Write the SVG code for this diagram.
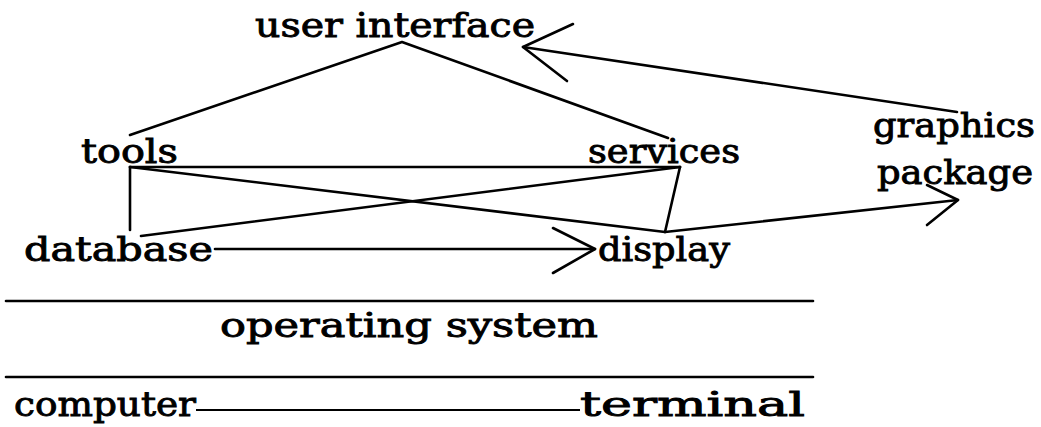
<svg xmlns="http://www.w3.org/2000/svg" width="1041" height="427" viewBox="0 0 1041 427">
  <style>
    .lbl { font-family: "DejaVu Serif", "Liberation Serif", serif; font-size: 34px; fill: #000; stroke: #000; stroke-width: 0.9; }
    .ln { stroke: #000; stroke-width: 2.6; fill: none; stroke-linecap: round; stroke-linejoin: round; }
    .thin { stroke: #000; stroke-width: 1.8; fill: none; }
  </style>
  <rect width="1041" height="427" fill="#fff"/>

  <!-- connectors -->
  <g id="connectors">
    <!-- user interface to tools / services -->
    <polyline class="ln" points="130,135 402,42 668,138"/>
    <!-- tools / services frame and cross -->
    <line class="ln" x1="130" y1="167" x2="680" y2="167"/>
    <line class="ln" x1="130" y1="167" x2="130" y2="230"/>
    <line class="ln" x1="141" y1="236" x2="680" y2="167"/>
    <line class="ln" x1="130" y1="167" x2="665" y2="232"/>
    <line class="ln" x1="680" y1="167" x2="665" y2="232"/>
    <!-- display to graphics package -->
    <line class="ln" x1="665" y1="232" x2="958" y2="200"/>
    <polyline class="ln" points="927,185 958,200 927,225"/>
    <!-- graphics package to user interface -->
    <line class="ln" x1="957" y1="112" x2="523" y2="47"/>
    <polyline class="ln" points="573,24 523,47 567,81"/>
    <!-- database to display -->
    <line class="ln" x1="215" y1="249" x2="595" y2="249"/>
    <polyline class="ln" points="553,228 595,249 553,273"/>
    <!-- layer rules -->
    <line class="ln" x1="6" y1="301" x2="813" y2="301"/>
    <line class="ln" x1="6" y1="377" x2="813" y2="377"/>
    <!-- computer to terminal -->
    <line class="thin" x1="196" y1="410" x2="580" y2="410"/>
  </g>

  <g id="user-interface"><text class="lbl" x="255" y="37" textLength="280" lengthAdjust="spacingAndGlyphs">user interface</text></g>
  <g id="tools"><text class="lbl" x="81" y="163" textLength="97" lengthAdjust="spacingAndGlyphs">tools</text></g>
  <g id="services"><text class="lbl" x="588" y="163" textLength="152" lengthAdjust="spacingAndGlyphs">services</text></g>
  <g id="graphics-package">
    <text class="lbl" x="873" y="137" textLength="162" lengthAdjust="spacingAndGlyphs">graphics</text>
    <text class="lbl" x="877" y="184" textLength="156" lengthAdjust="spacingAndGlyphs">package</text>
  </g>
  <g id="database"><text class="lbl" x="24" y="261" textLength="189" lengthAdjust="spacingAndGlyphs">database</text></g>
  <g id="display"><text class="lbl" x="598" y="261" textLength="132" lengthAdjust="spacingAndGlyphs">display</text></g>
  <g id="operating-system"><text class="lbl" x="220" y="337" textLength="378" lengthAdjust="spacingAndGlyphs">operating system</text></g>
  <g id="computer"><text class="lbl" x="14" y="416" textLength="182" lengthAdjust="spacingAndGlyphs">computer</text></g>
  <g id="terminal"><text class="lbl" x="580" y="416" textLength="225" lengthAdjust="spacingAndGlyphs">terminal</text></g>
</svg>
